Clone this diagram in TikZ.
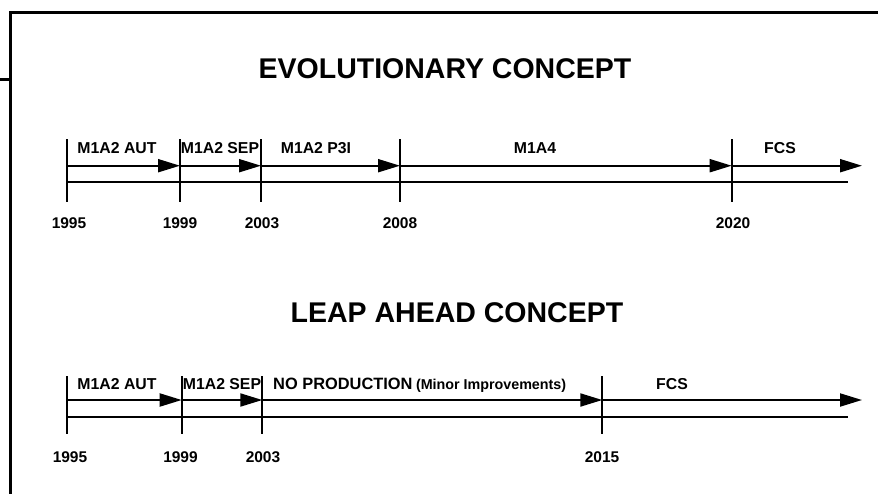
\documentclass[tikz,border=0pt]{standalone}
\usepackage{fontspec}
\setmainfont{Liberation Sans}
\usetikzlibrary{arrows.meta,positioning}

\begin{document}
\begin{tikzpicture}[
    x=1pt, y=-1pt,
    >={Triangle[length=22pt,width=13pt]},
    frame/.style={line width=3pt},
    tick/.style={line width=2pt},
    tlarr/.style={->, line width=2pt},
    tlline/.style={line width=2pt},
    titlelbl/.style={font=\fontsize{28.5}{32}\selectfont\bfseries, inner sep=0pt},
    phaselbl/.style={font=\fontsize{15.8}{18}\selectfont\bfseries, inner sep=0pt},
    yearlbl/.style={font=\fontsize{15.5}{18}\selectfont\bfseries, inner sep=0pt},
    minorlbl/.style={font=\fontsize{14.3}{16}\selectfont\bfseries, inner sep=0pt},
]
\useasboundingbox (0,0) rectangle (878,493);

% ============ FRAME ============
\draw[frame] (10,495) -- (10,12) -- (880,12);
\draw[frame] (-2,79) -- (10,79);

% ============ EVOLUTIONARY CONCEPT (TOP) ============
\node[titlelbl] (evotitle) at (445,69) {EVOLUTIONARY CONCEPT};

% ticks and years
\foreach \yr/\x/\lx/\lbl in {95/66.7/69/1995, 99/180/180/1999, 03/261/262/2003, 08/400/400/2008, 20/731.7/733/2020} {
  \coordinate (et\yr) at (\x,139);
  \coordinate (eb\yr) at (\x,202);
  \coordinate (ea\yr) at (\x,165.7);
  \draw[tick] (et\yr) -- (eb\yr);
  \node[yearlbl] (ey\yr) at (\lx,223.3) {\lbl};
}
\coordinate (eaend) at (862,165.7);
\coordinate (el95) at (66.7,181.7);
\coordinate (elend) at (848,181.7);

% phase arrows
\draw[tlarr] (ea95) -- (ea99);
\draw[tlarr] (ea99) -- (ea03);
\draw[tlarr] (ea03) -- (ea08);
\draw[tlarr] (ea08) -- (ea20);
\draw[tlarr] (ea20) -- (eaend);
\draw[tlline] (el95) -- (elend);

% phase labels
\node[phaselbl] (eaut) at (117,148.3) {M1A2 AUT};
\node[phaselbl] (esep) at (220,148.3) {M1A2 SEP};
\node[phaselbl] (ep3i) at (316,148.3) {M1A2 P3I};
\node[phaselbl] (em1a4) at (535,148.3) {M1A4};
\node[phaselbl] (efcs) at (780,148.3) {FCS};

% ============ LEAP AHEAD CONCEPT (BOTTOM) ============
\node[titlelbl] (leaptitle) at (457,313) {LEAP AHEAD CONCEPT};

% ticks and years
\foreach \yr/\x/\lx/\lbl in {95/67.3/70/1995, 99/181.7/180.5/1999, 03/262.3/263/2003, 15/602.3/602/2015} {
  \coordinate (lt\yr) at (\x,376);
  \coordinate (lb\yr) at (\x,434);
  \coordinate (la\yr) at (\x,400);
  \draw[tick] (lt\yr) -- (lb\yr);
  \node[yearlbl] (ly\yr) at (\lx,457.5) {\lbl};
}
\coordinate (laend) at (862,400);
\coordinate (ll95) at (67.3,416.7);
\coordinate (llend) at (848,416.7);

% phase arrows
\draw[tlarr] (la95) -- (la99);
\draw[tlarr] (la99) -- (la03);
\draw[tlarr] (la03) -- (la15);
\draw[tlarr] (la15) -- (laend);
\draw[tlline] (ll95) -- (llend);

% phase labels
\node[phaselbl] (laut) at (117,384) {M1A2 AUT};
\node[phaselbl] (lsep) at (222,384) {M1A2 SEP};
\node[phaselbl, font=\fontsize{16.4}{18}\selectfont\bfseries, anchor=base west] (lnoprod) at (273,389.8) {NO PRODUCTION};
\node[minorlbl, right=3pt of lnoprod.base east, anchor=base west] (lminor) {(Minor Improvements)};
\node[phaselbl] (lfcs) at (672,384) {FCS};

\end{tikzpicture}
\end{document}
